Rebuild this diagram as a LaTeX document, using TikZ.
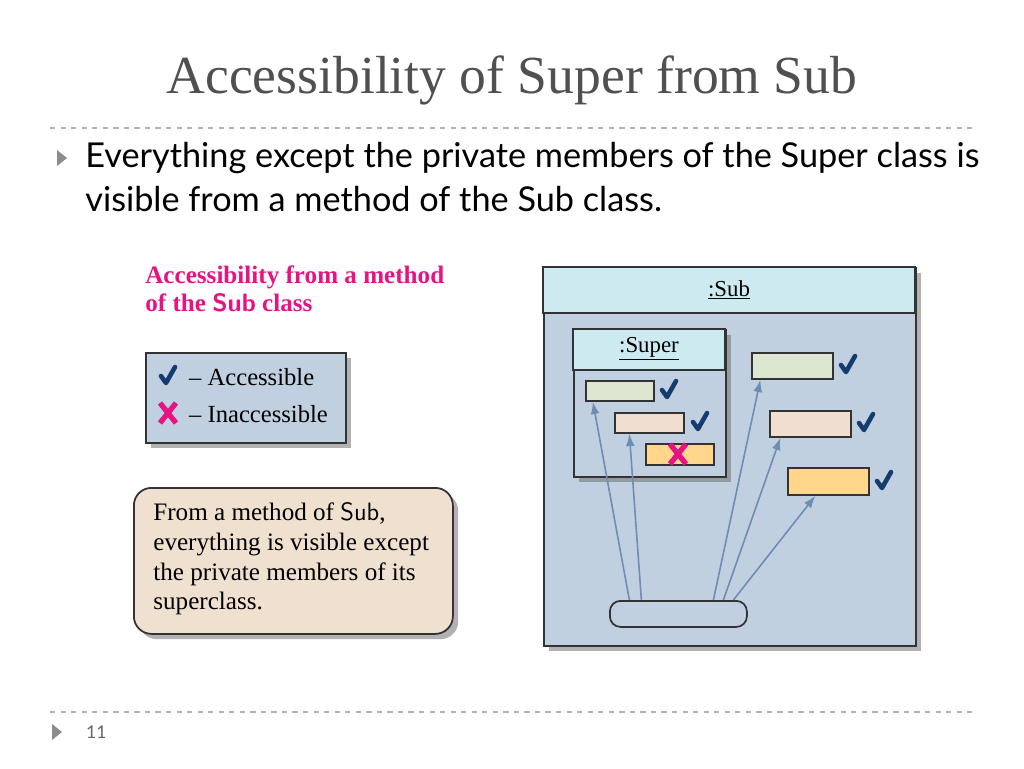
\documentclass[tikz,border=0pt]{standalone}
\usepackage{fontspec}
\setmainfont{Liberation Serif}
\newfontfamily\bodyfont{Lato}
\usetikzlibrary{shadows,arrows.meta}
\definecolor{titlegray}{RGB}{80,80,80}
\definecolor{pinkx}{RGB}{230,20,130}
\definecolor{tickblue}{RGB}{20,60,110}
\definecolor{hdrblue}{RGB}{204,234,240}
\definecolor{bodyblue}{RGB}{192,208,224}
\definecolor{memgreen}{RGB}{220,230,208}
\definecolor{mempeach}{RGB}{240,222,208}
\definecolor{memorange}{RGB}{255,214,140}
\definecolor{notefill}{RGB}{240,224,208}
\definecolor{arrowblue}{RGB}{110,140,180}
\newcommand{\tickmark}[1]{\draw[tickblue,line width=2.6pt,line cap=round,line join=round] ($(#1)+(-7,0)$) -- ($(#1)+(-2,7)$) -- ($(#1)+(7,-9)$);}
\newcommand{\crossmark}[1]{\draw[pinkx,line width=3pt] ($(#1)+(-8,-10)$) -- ($(#1)+(8,10)$) ($(#1)+(-8,10)$) -- ($(#1)+(8,-10)$);}
\usetikzlibrary{calc}
\begin{document}
\begin{tikzpicture}[x=0.02cm,y=-0.02cm]
  \tikzstyle{box}=[draw=black!80,line width=1pt,drop shadow={shadow xshift=3pt,shadow yshift=-3pt,fill=black!60}]
  \tikzstyle{member}=[draw=black!80,line width=1pt,inner sep=0pt]
  \tikzstyle{access}=[-{Latex[length=7pt,width=5pt]},arrowblue,line width=0.9pt]
  \tikzstyle{rule}=[black!30,dashed,line width=0.6pt]
  \useasboundingbox (0,0) rectangle (1024,768);
  % slide frame
  \node[titlegray,font=\fontsize{30.5}{34}\selectfont] (title) at (512,80) {Accessibility of Super from Sub};
  \coordinate (rule-a) at (50,128); \coordinate (rule-b) at (975,128);
  \draw[rule] (rule-a) -- (rule-b);
  \coordinate (rule-c) at (50,712); \coordinate (rule-d) at (975,712);
  \draw[rule] (rule-c) -- (rule-d);
  \fill[black!45] (57,150) -- (67,158) -- (57,166) -- cycle;
  \fill[black!45] (52,724) -- (62,732) -- (52,740) -- cycle;
  \node[anchor=west,font=\bodyfont\fontsize{10}{12}\selectfont,black!60] (page) at (80,732) {11};
  \node[anchor=north west,align=left,inner sep=0pt,font=\bodyfont\fontsize{19.5}{25}\selectfont] (bullet) at (85,142)
    {Everything except the private members of the Super class is\\visible from a method of the Sub class.};
  % left side
  \node[anchor=north west,align=left,inner sep=0pt,pinkx,font=\bfseries\fontsize{14.3}{16}\selectfont] (caption) at (145,265)
    {Accessibility from a method\\of the {\sffamily Sub} class};
  \node[box,fill=bodyblue,minimum width=200*0.02cm,minimum height=90*0.02cm,anchor=north west] (legend) at (145,352) {};
  \coordinate (tick-l) at (168,376); \coordinate (cross-l) at (168,413);
  \tickmark{tick-l} \crossmark{cross-l}
  \node[anchor=west,font=\fontsize{14}{16}\selectfont] (acc) at (183,377) {-- Accessible};
  \node[anchor=west,font=\fontsize{14}{16}\selectfont] (inacc) at (183,414) {-- Inaccessible};
  \node[box,fill=notefill,rounded corners=10pt,minimum width=319*0.02cm,minimum height=146*0.02cm,anchor=north west] (note) at (133,487) {};
  \node[anchor=north west,align=left,inner sep=0pt,font=\fontsize{14.3}{17}\selectfont] (notetext) at (153,502)
    {From a method of {\sffamily Sub},\\everything is visible except\\the private members of its\\superclass.};
  % Sub object
  \node[box,fill=bodyblue,minimum width=372*0.02cm,minimum height=378*0.02cm,anchor=north west] (sub) at (543,267) {};
  \filldraw[fill=hdrblue,draw=black!80,line width=1pt] (543,267) rectangle (915,313);
  \node[font=\fontsize{13}{15}\selectfont] (sublbl) at (729,290) {\underline{:Sub}};
  \node[box,fill=bodyblue,minimum width=152*0.02cm,minimum height=147*0.02cm,anchor=north west] (super) at (573,329) {};
  \filldraw[fill=hdrblue,draw=black!80,line width=1pt] (573,329) rectangle (725,370);
  \node[font=\fontsize{13}{15}\selectfont] (superlbl) at (649,349) {\underline{:Super}};
  % members
  \node[member,fill=memgreen,minimum width=68*0.02cm,minimum height=20*0.02cm,anchor=north west] (s-pub) at (585,380) {};
  \node[member,fill=mempeach,minimum width=69*0.02cm,minimum height=20*0.02cm,anchor=north west] (s-pro) at (614,412) {};
  \node[member,fill=memorange,minimum width=68*0.02cm,minimum height=21*0.02cm,anchor=north west] (s-pri) at (645,443) {};
  \node[member,fill=memgreen,minimum width=81*0.02cm,minimum height=26*0.02cm,anchor=north west] (b-pub) at (751,352) {};
  \node[member,fill=mempeach,minimum width=81*0.02cm,minimum height=26*0.02cm,anchor=north west] (b-pro) at (769,410) {};
  \node[member,fill=memorange,minimum width=81*0.02cm,minimum height=27*0.02cm,anchor=north west] (b-pri) at (787,467) {};
  \coordinate (t1) at (669,390); \coordinate (t2) at (700,422);
  \coordinate (t3) at (848,365); \coordinate (t4) at (866,423); \coordinate (t5) at (884,481);
  \foreach \t in {t1,t2,t3,t4,t5} {\tickmark{\t}}
  \coordinate (x1) at (678,454); \crossmark{x1}
  % method
  \node[member,fill=bodyblue,rounded corners=6pt,minimum width=137*0.02cm,minimum height=26*0.02cm,anchor=north west] (method) at (609,600) {};
  \draw[access] ([xshift=-49*0.02cm]method.north) -- ([xshift=-27*0.02cm]s-pub.south);
  \draw[access] ([xshift=-37*0.02cm]method.north) -- ([xshift=-20*0.02cm]s-pro.south);
  \draw[access] ([xshift=35*0.02cm]method.north) -- ([xshift=-32*0.02cm]b-pub.south);
  \draw[access] ([xshift=45*0.02cm]method.north) -- ([xshift=-30*0.02cm]b-pro.south);
  \draw[access] ([xshift=55*0.02cm]method.north) -- ([xshift=-13*0.02cm]b-pri.south);
\end{tikzpicture}
\end{document}
